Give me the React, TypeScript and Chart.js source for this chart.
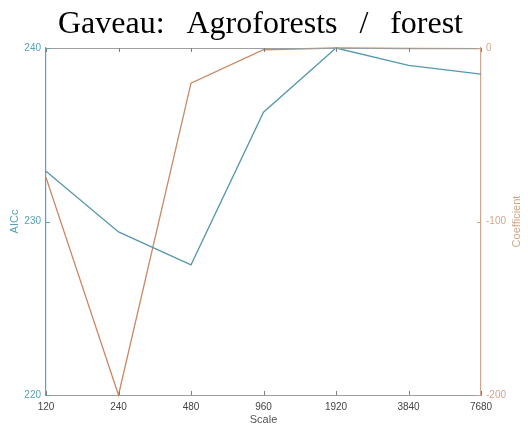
import React, { useEffect, useRef } from "react";
import { Chart, registerables } from "chart.js";

Chart.register(...registerables);

const categories = ["120", "240", "480", "960", "1920", "3840", "7680"];
const aiccValues = [232.9, 229.4, 227.5, 236.3, 240.0, 239.0, 238.5];
const coefValues = [-74.6, -200, -20.3, -1.0, 0, -0.3, -0.4];
const titleWords = ["Gaveau:", "Agroforests", "/", "forest"];

const BLUE_LINE = "#5797ad";
const BLUE_AXIS = "#56a2b9";
const ORANGE_LINE = "#c98a65";
const ORANGE_AXIS = "#d4a588";
const GRAY = "#9aa0a0";
const FONT = "'Liberation Sans', Arial, sans-serif";

const decorPlugin = {
  id: "decor",
  afterDraw(chart: any) {
    const ctx = chart.ctx;
    const { left, right, top, bottom } = chart.chartArea;
    ctx.save();
    // top box line
    ctx.strokeStyle = GRAY;
    ctx.lineWidth = 1;
    ctx.beginPath();
    ctx.moveTo(left, top + 0.5);
    ctx.lineTo(right, top + 0.5);
    ctx.stroke();
    // inward ticks x
    const xs = chart.scales.x;
    const tl = 4;
    ctx.strokeStyle = "#7a8080";
    categories.forEach((_, i) => {
      const px = Math.round(xs.getPixelForValue(i)) + 0.5;
      ctx.beginPath();
      ctx.moveTo(px, bottom);
      ctx.lineTo(px, bottom - tl);
      ctx.moveTo(px, top);
      ctx.lineTo(px, top + tl);
      ctx.stroke();
    });
    // inward ticks y left
    const yl = chart.scales.y;
    ctx.strokeStyle = BLUE_AXIS;
    yl.ticks.forEach((t: any) => {
      const py = Math.round(yl.getPixelForValue(t.value)) + 0.5;
      ctx.beginPath();
      ctx.moveTo(left, py);
      ctx.lineTo(left + tl, py);
      ctx.stroke();
    });
    const yr = chart.scales.y1;
    ctx.strokeStyle = ORANGE_AXIS;
    yr.ticks.forEach((t: any) => {
      const py = Math.round(yr.getPixelForValue(t.value)) + 0.5;
      ctx.beginPath();
      ctx.moveTo(right, py);
      ctx.lineTo(right - tl, py);
      ctx.stroke();
    });
    // title (justified words)
    ctx.fillStyle = "#000";
    ctx.font = "32px 'Liberation Serif', 'Times New Roman', serif";
    ctx.textBaseline = "alphabetic";
    ctx.textAlign = "left";
    const x0 = 58;
    const x1 = 463;
    const widths = titleWords.map((w) => ctx.measureText(w).width);
    const sum = widths.reduce((a, b) => a + b, 0);
    const gap = (x1 - x0 - sum) / (titleWords.length - 1);
    let x = x0;
    titleWords.forEach((w, i) => {
      ctx.fillText(w, x, 33);
      x += widths[i] + gap;
    });
    // axis titles
    ctx.font = `11px ${FONT}`;
    ctx.textAlign = "center";
    ctx.textBaseline = "middle";
    ctx.fillStyle = "#555";
    ctx.fillText("Scale", (left + right) / 2, 420);
    ctx.fillStyle = BLUE_AXIS;
    ctx.save();
    ctx.translate(15, (top + bottom) / 2);
    ctx.rotate(-Math.PI / 2);
    ctx.fillText("AICc", 0, 0);
    ctx.restore();
    ctx.fillStyle = ORANGE_AXIS;
    ctx.save();
    ctx.translate(517, (top + bottom) / 2);
    ctx.rotate(-Math.PI / 2);
    ctx.fillText("Coefficient", 0, 0);
    ctx.restore();
    ctx.restore();
  },
};

export default function App() {
  const ref = useRef<HTMLCanvasElement | null>(null);
  useEffect(() => {
    document.body.style.margin = "0";
    if (!ref.current) return;
    const chart = new Chart(ref.current, {
      type: "line",
      data: {
        labels: categories,
        datasets: [
          {
            label: "AICc",
            data: aiccValues,
            borderColor: BLUE_LINE,
            borderWidth: 1.3,
            pointRadius: 0,
            tension: 0,
            yAxisID: "y",
            clip: false as any,
          },
          {
            label: "Coefficient",
            data: coefValues,
            borderColor: ORANGE_LINE,
            borderWidth: 1.3,
            pointRadius: 0,
            tension: 0,
            yAxisID: "y1",
            clip: false as any,
          },
        ],
      },
      options: {
        responsive: false,
        animation: false,
        layout: { padding: { top: 48, left: 0, right: 0, bottom: 0 } },
        plugins: {
          legend: { display: false },
          title: { display: false },
          tooltip: { enabled: false },
        },
        scales: {
          x: {
            type: "category",
            offset: false,
            grid: { display: false, drawTicks: false },
            border: { display: true, color: GRAY, width: 1 },
            ticks: {
              color: "#444",
              font: { family: FONT, size: 10 },
              padding: 6,
              maxRotation: 0,
              autoSkip: false,
            },
            afterFit: (s: any) => {
              s.height = 35;
            },
          },
          y: {
            type: "linear",
            position: "left",
            min: 220,
            max: 240,
            grid: { display: false, drawTicks: false },
            border: { display: true, color: BLUE_AXIS, width: 1.2 },
            ticks: {
              stepSize: 10,
              color: BLUE_AXIS,
              font: { family: FONT, size: 10 },
              padding: 5,
            },
            afterFit: (s: any) => {
              s.width = 46;
            },
          },
          y1: {
            type: "linear",
            position: "right",
            min: -200,
            max: 0,
            grid: { display: false, drawTicks: false },
            border: { display: true, color: ORANGE_AXIS, width: 1.2 },
            ticks: {
              stepSize: 100,
              color: ORANGE_AXIS,
              font: { family: FONT, size: 10 },
              padding: 5,
            },
            afterFit: (s: any) => {
              s.width = 47;
            },
          },
        },
      },
      plugins: [decorPlugin],
    });
    return () => chart.destroy();
  }, []);
  return (
    <div style={{ width: 528, height: 430, background: "#fff" }}>
      <canvas ref={ref} width={528} height={430} style={{ display: "block" }} />
    </div>
  );
}
